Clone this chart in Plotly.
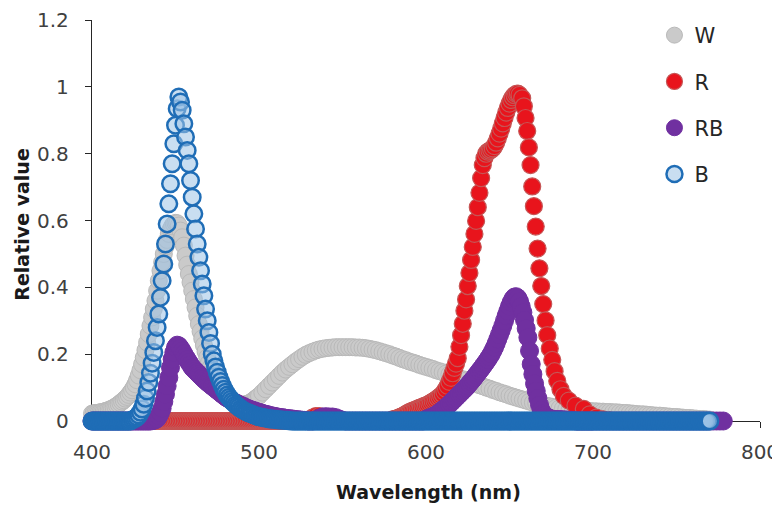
import plotly.graph_objects as go

# ---------------- data ----------------
series_names = ["W", "R", "RB", "B"]

# W (white LED) : 1 nm 400-500, 2 nm 502-770
w_nm = list(range(400, 501)) + list(range(502, 771, 2))
w_val = [
    0.022, 0.023, 0.024, 0.024, 0.025, 0.026, 0.027, 0.028, 0.030, 0.031,
    0.033, 0.035, 0.037, 0.040, 0.043, 0.046, 0.050, 0.054, 0.058, 0.062,
    0.067, 0.072, 0.078, 0.085, 0.092, 0.100, 0.110, 0.122, 0.136, 0.152,
    0.170, 0.190, 0.212, 0.235, 0.260, 0.285, 0.310, 0.335, 0.360, 0.390,
    0.420, 0.450, 0.475, 0.500, 0.522, 0.542, 0.560, 0.573, 0.583, 0.590,
    0.593, 0.592, 0.585, 0.570, 0.550, 0.525, 0.495, 0.468, 0.440, 0.415,
    0.390, 0.365, 0.340, 0.315, 0.290, 0.268, 0.247, 0.227, 0.208, 0.190,
    0.174, 0.160, 0.147, 0.135, 0.124, 0.113, 0.104, 0.095, 0.087, 0.080,
    0.074, 0.069, 0.065, 0.061, 0.058, 0.055, 0.053, 0.051, 0.050, 0.049,
    0.049, 0.049, 0.050, 0.051, 0.053, 0.056, 0.059, 0.063, 0.067, 0.071,
    0.075,
    0.085, 0.095, 0.105, 0.115, 0.125, 0.135, 0.145, 0.154, 0.162, 0.170,
    0.178, 0.185, 0.192, 0.198, 0.203, 0.207, 0.211, 0.214, 0.216, 0.218,
    0.219, 0.220, 0.221, 0.221, 0.221, 0.221, 0.221, 0.221, 0.220, 0.220,
    0.219, 0.218, 0.216, 0.214, 0.212, 0.209, 0.206, 0.203, 0.200, 0.196,
    0.193, 0.189, 0.185, 0.182, 0.178, 0.175, 0.172, 0.168, 0.165, 0.162,
    0.159, 0.156, 0.152, 0.149, 0.146, 0.142, 0.139, 0.135, 0.132, 0.128,
    0.125, 0.121, 0.118, 0.114, 0.111, 0.107, 0.104, 0.100, 0.097, 0.093,
    0.090, 0.086, 0.083, 0.080, 0.076, 0.073, 0.070, 0.067, 0.064, 0.061,
    0.058, 0.055, 0.053, 0.050, 0.048, 0.046, 0.044, 0.042, 0.040, 0.038,
    0.037, 0.035, 0.034, 0.033, 0.032, 0.031, 0.031, 0.030, 0.030, 0.029,
    0.029, 0.028, 0.028, 0.027, 0.027, 0.026, 0.026, 0.025, 0.024, 0.024,
    0.023, 0.022, 0.021, 0.020, 0.020, 0.019, 0.018, 0.017, 0.016, 0.016,
    0.015, 0.014, 0.013, 0.012, 0.012, 0.011, 0.010, 0.009, 0.009, 0.008,
    0.007, 0.006, 0.006, 0.005, 0.004,
]

# R (red LED)
r_nm = (list(range(400, 521)) + list(range(522, 580, 2)) + list(range(580, 657))
        + [657.6, 658.6, 659.6, 660.6, 661.6, 662.6, 663.6, 664.6, 665.7, 666.8,
           667.9, 669.0, 670.2, 671.6, 672.6, 674.1, 675.6, 677.0, 678.6, 680.5,
           682.5, 685.5, 689.5, 694.5]
        + list(range(698, 771, 4)))
r_val = [
    0, 0, 0, 0, 0, 0, 0, 0, 0, 0,
    0, 0, 0, 0, 0, 0, 0, 0, 0, 0,
    0, 0, 0, 0, 0, 0, 0, 0, 0, 0,
    0, 0, 0, 0, 0, 0, 0, 0, 0, 0,
    0, 0, 0, 0, 0, 0, 0, 0, 0, 0,
    0, 0, 0, 0, 0, 0, 0, 0, 0, 0,
    0, 0, 0, 0, 0, 0, 0, 0, 0, 0,
    0, 0, 0, 0, 0, 0, 0, 0, 0, 0,
    0, 0, 0, 0, 0, 0, 0, 0, 0, 0,
    0, 0, 0, 0, 0, 0, 0, 0, 0, 0,
    0, 0, 0, 0, 0, 0, 0, 0, 0, 0,
    0, 0, 0, 0, 0, 0, 0, 0, 0, 0,
    0,
    0, 0, 0, 0, 0.003, 0.010, 0.015, 0.015, 0.010, 0.004,
    0, 0, 0, 0, 0, 0, 0, 0, 0, 0,
    0, 0, 0, 0, 0, 0, 0, 0, 0,
    0.005, 0.006, 0.007, 0.009, 0.011, 0.013, 0.015, 0.018, 0.021, 0.024,
    0.027, 0.029, 0.031, 0.033, 0.035, 0.037, 0.039, 0.041, 0.043, 0.045,
    0.047, 0.049, 0.052, 0.055, 0.058, 0.061, 0.064, 0.068, 0.072, 0.076,
    0.080, 0.088, 0.096, 0.105, 0.117, 0.129, 0.143, 0.159, 0.172, 0.188,
    0.222, 0.257, 0.291, 0.330, 0.364, 0.404, 0.443, 0.482, 0.521, 0.560,
    0.599, 0.640, 0.683, 0.727, 0.766, 0.787, 0.800, 0.806, 0.809, 0.812,
    0.816, 0.823, 0.833, 0.846, 0.860, 0.875, 0.891, 0.907, 0.923, 0.937,
    0.950, 0.961, 0.969, 0.975, 0.979, 0.980, 0.976,
    0.966, 0.942, 0.907, 0.868, 0.819, 0.766, 0.702, 0.643, 0.582, 0.516,
    0.457, 0.404, 0.350, 0.301, 0.257, 0.217, 0.183, 0.149, 0.120, 0.095,
    0.075, 0.061, 0.046, 0.036,
    0.020, 0.010, 0.005, 0.002, 0, 0, 0, 0, 0, 0,
    0, 0, 0, 0, 0, 0, 0, 0, 0,
]

# RB (red + blue LED)
rb_nm = (list(range(400, 530)) + list(range(530, 600, 2))
         + list(range(600, 700)) + list(range(700, 779, 2)))
rb_val = [
    0, 0, 0, 0, 0, 0, 0, 0, 0, 0,
    0, 0, 0, 0, 0, 0, 0, 0, 0, 0,
    0, 0, 0, 0, 0, 0, 0, 0, 0, 0,
    0, 0, 0, 0, 0, 0, 0.001, 0.002, 0.004, 0.007,
    0.015, 0.025, 0.038, 0.058, 0.080, 0.105, 0.130, 0.160, 0.185, 0.205,
    0.220, 0.227, 0.225, 0.218, 0.210, 0.201, 0.192, 0.184, 0.176, 0.168,
    0.160, 0.155, 0.150, 0.145, 0.140, 0.135, 0.130, 0.125, 0.121, 0.116,
    0.112, 0.108, 0.104, 0.100, 0.096, 0.092, 0.088, 0.084, 0.080, 0.076,
    0.072, 0.069, 0.066, 0.063, 0.060, 0.057, 0.054, 0.052, 0.049, 0.047,
    0.045, 0.043, 0.040, 0.038, 0.036, 0.034, 0.032, 0.031, 0.029, 0.027,
    0.026, 0.024, 0.023, 0.021, 0.020, 0.019, 0.017, 0.016, 0.015, 0.014,
    0.013, 0.012, 0.011, 0.010, 0.010, 0.009, 0.008, 0.007, 0.007, 0.006,
    0.006, 0.005, 0.004, 0.004, 0.003, 0.003, 0.002, 0.002, 0.001, 0.001,
    0, 0, 0.003, 0.008, 0.012, 0.013, 0.012, 0.012, 0.010, 0.006,
    0.002, 0, 0, 0, 0, 0, 0, 0, 0, 0,
    0, 0, 0, 0, 0, 0, 0, 0, 0, 0,
    0, 0, 0, 0, 0,
    0.005, 0.007, 0.009, 0.011, 0.013, 0.015, 0.018, 0.021, 0.025, 0.029,
    0.033, 0.037, 0.041, 0.046, 0.050, 0.055, 0.060, 0.065, 0.070, 0.075,
    0.080, 0.085, 0.090, 0.095, 0.100, 0.106, 0.112, 0.118, 0.124, 0.130,
    0.137, 0.143, 0.150, 0.156, 0.163, 0.170, 0.177, 0.184, 0.192, 0.200,
    0.210, 0.220, 0.232, 0.245, 0.258, 0.271, 0.285, 0.300, 0.315, 0.329,
    0.343, 0.355, 0.365, 0.371, 0.372, 0.368, 0.358, 0.343, 0.325, 0.302,
    0.277, 0.250, 0.210, 0.170, 0.140, 0.112, 0.090, 0.068, 0.048, 0.032,
    0.022, 0.017, 0.013, 0.010, 0.008, 0.006, 0.005, 0.004, 0.004, 0.004,
    0.004, 0.004, 0.003, 0.003, 0.003, 0.002, 0.002, 0.002, 0.001, 0.001,
    0, 0, 0, 0, 0, 0, 0, 0, 0, 0,
    0, 0, 0, 0, 0, 0, 0, 0, 0, 0,
    0, 0, 0, 0, 0, 0, 0, 0, 0, 0,
    0, 0, 0, 0, 0, 0, 0, 0, 0, 0,
    0, 0, 0, 0, 0, 0, 0, 0, 0, 0,
]

# B (blue LED), 1 nm steps 400-770
b_nm = list(range(400, 771))
b_val = [
    0, 0, 0, 0, 0, 0, 0, 0, 0, 0,
    0, 0, 0, 0, 0, 0, 0, 0, 0, 0,
    0, 0, 0, 0, 0.003, 0.005, 0.008, 0.012, 0.018, 0.026,
    0.036, 0.050, 0.068, 0.090, 0.115, 0.143, 0.173, 0.205, 0.240, 0.280,
    0.320, 0.370, 0.420, 0.470, 0.530, 0.590, 0.650, 0.710, 0.770, 0.830,
    0.885, 0.935, 0.970, 0.955, 0.930, 0.890, 0.850, 0.810, 0.770, 0.720,
    0.670, 0.620, 0.575, 0.530, 0.490, 0.450, 0.410, 0.375, 0.335, 0.300,
    0.265, 0.232, 0.200, 0.180, 0.162, 0.146, 0.131, 0.118, 0.106, 0.095,
    0.086, 0.078, 0.071, 0.065, 0.059, 0.054, 0.049, 0.045, 0.041, 0.037,
    0.034, 0.031, 0.028, 0.026, 0.024, 0.022, 0.020, 0.018, 0.016, 0.014,
    0.013, 0.012, 0.011, 0.010, 0.009, 0.008, 0.007, 0.006, 0.006, 0.005,
    0.005, 0.004, 0.004, 0.003, 0.003, 0.002, 0.002, 0.002, 0.001, 0.001,
    0, 0, 0, 0, 0, 0, 0, 0, 0, 0,
    0, 0, 0, 0, 0, 0, 0, 0, 0, 0,
    0, 0, 0, 0, 0, 0, 0, 0, 0, 0,
    0, 0, 0, 0, 0, 0, 0, 0, 0, 0,
    0, 0, 0, 0, 0, 0, 0, 0, 0, 0,
    0, 0, 0, 0, 0, 0, 0, 0, 0, 0,
    0, 0, 0, 0, 0, 0, 0, 0, 0, 0,
    0, 0, 0, 0, 0, 0, 0, 0, 0, 0,
    0, 0, 0, 0, 0, 0, 0, 0, 0, 0,
    0, 0, 0, 0, 0, 0, 0, 0, 0, 0,
    0, 0, 0, 0, 0, 0, 0, 0, 0, 0,
    0, 0, 0, 0, 0, 0, 0, 0, 0, 0,
    0, 0, 0, 0, 0, 0, 0, 0, 0, 0,
    0, 0, 0, 0, 0, 0, 0, 0, 0, 0,
    0, 0, 0, 0, 0, 0, 0, 0, 0, 0,
    0, 0, 0, 0, 0, 0, 0, 0, 0, 0,
    0, 0, 0, 0, 0, 0, 0, 0, 0, 0,
    0, 0, 0, 0, 0, 0, 0, 0, 0, 0,
    0, 0, 0, 0, 0, 0, 0, 0, 0, 0,
    0, 0, 0, 0, 0, 0, 0, 0, 0, 0,
    0, 0, 0, 0, 0, 0, 0, 0, 0, 0,
    0, 0, 0, 0, 0, 0, 0, 0, 0, 0,
    0, 0, 0, 0, 0, 0, 0, 0, 0, 0,
    0, 0, 0, 0, 0, 0, 0, 0, 0, 0,
    0, 0, 0, 0, 0, 0, 0, 0, 0, 0,
    0,
]

x_ticks = [400, 500, 600, 700, 800]
y_ticks = [0, 0.2, 0.4, 0.6, 0.8, 1, 1.2]
y_tick_text = ["0", "0.2", "0.4", "0.6", "0.8", "1", "1.2"]

for nm, v, name in [(w_nm, w_val, "W"), (r_nm, r_val, "R"), (rb_nm, rb_val, "RB"), (b_nm, b_val, "B")]:
    if len(nm) != len(v):
        raise ValueError(f"{name}: {len(nm)} x vs {len(v)} y")

# ---------------- styles ----------------
styles = {
    "W": dict(size=17, color="#cacaca", line=dict(color="#b9b9b9", width=1)),
    "R": dict(size=17, color="#e8141c", line=dict(color="#c65555", width=1.2)),
    "RB": dict(size=18, color="#7030a0", line=dict(color="#7030a0", width=1)),
    "B": dict(size=16.5, color="rgba(157,195,230,0.55)", line=dict(color="#1f6db6", width=2.5)),
}
FONT = "'DejaVu Sans', Verdana, sans-serif"

fig = go.Figure()
for nm, v, name in [(w_nm, w_val, "W"), (r_nm, r_val, "R"), (rb_nm, rb_val, "RB"), (b_nm, b_val, "B")]:
    fig.add_trace(go.Scatter(
        x=nm, y=v, mode="markers", name=name, legendgroup=name,
        marker=dict(symbol="circle", **styles[name]),
        cliponaxis=False,
    ))

# the page adds an 8px body margin, so the figure is 8px smaller than the window
fig.update_layout(
    width=772, height=501,
    margin=dict(l=84, r=20, t=12, b=88, autoexpand=False),
    paper_bgcolor="white", plot_bgcolor="white",
    font=dict(family=FONT, color="#404040"),
    showlegend=True,
    legend=dict(
        x=0.842, y=1.0125, xanchor="left", yanchor="top",
        font=dict(family=FONT, size=21, color="#262626"),
        tracegroupgap=16, bgcolor="rgba(0,0,0,0)", itemwidth=30,
    ),
    xaxis=dict(
        range=[400, 800], tickmode="array", tickvals=x_ticks,
        showgrid=False, zeroline=False, showline=True, linecolor="#262626", linewidth=1.3,
        ticks="outside", ticklen=6, tickcolor="#262626", tickwidth=1.3,
        tickfont=dict(family=FONT, size=20, color="#404040"),
        ticklabelstandoff=7, layer="below traces", ticklabeloverflow="allow",
        automargin=False,
    ),
    yaxis=dict(
        range=[0, 1.2003], tickmode="array", tickvals=y_ticks, ticktext=y_tick_text,
        showgrid=False, zeroline=False, showline=True, linecolor="#262626", linewidth=1.3,
        ticks="outside", ticklen=6, tickcolor="#262626", tickwidth=1.3,
        tickfont=dict(family=FONT, size=20, color="#404040"),
        ticklabelstandoff=12, layer="below traces", ticklabeloverflow="allow",
        automargin=False,
    ),
    annotations=[
        dict(text="<b>Wavelength (nm)</b>", xref="paper", yref="paper",
             x=0.504, y=-0.177, xanchor="center", yanchor="middle", showarrow=False,
             font=dict(family=FONT, size=19, color="#1a1a1a")),
        dict(text="<b>Relative value</b>", xref="paper", yref="paper",
             x=-0.106, y=0.49, xanchor="center", yanchor="middle", showarrow=False,
             textangle=-90, font=dict(family=FONT, size=19, color="#1a1a1a")),
    ],
)

fig.write_html("out.html")
